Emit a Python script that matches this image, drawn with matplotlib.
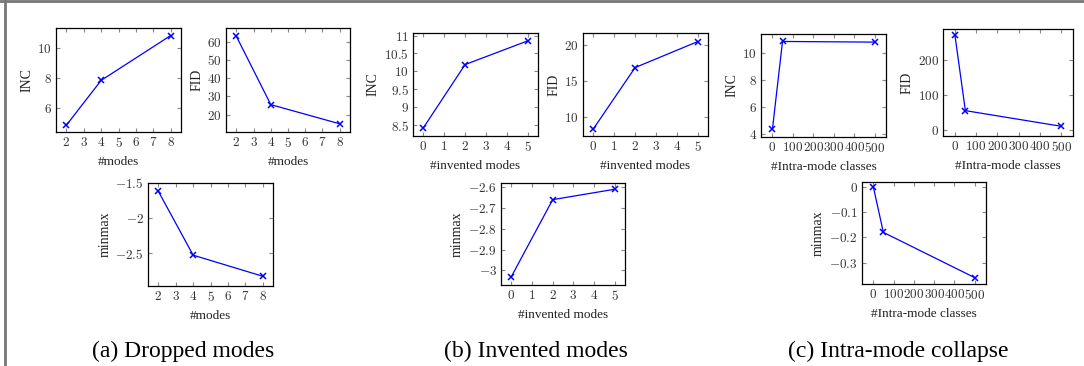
import matplotlib
matplotlib.use("Agg")
import matplotlib.pyplot as plt
from matplotlib.lines import Line2D
from matplotlib.ticker import FuncFormatter, FixedLocator

# ── Data ──────────────────────────────────────────────────────────────────────
dropped_modes = [2, 4, 8]
dropped_inc = [4.9, 7.85, 10.8]
dropped_fid = [63.0, 25.5, 15.0]
dropped_minmax = [-1.62, -2.53, -2.83]

invented_modes = [0, 2, 5]
invented_inc = [8.43, 10.19, 10.85]
invented_fid = [8.3, 16.8, 20.4]
invented_minmax = [-3.03, -2.66, -2.61]

intra_classes = [1, 50, 500]
intra_inc = [4.4, 10.85, 10.8]
intra_fid = [272.0, 55.0, 10.0]
intra_minmax = [0.0, -0.18, -0.36]

captions = ["(a) Dropped modes", "(b) Invented modes", "(c) Intra-mode collapse"]

# ── Style ─────────────────────────────────────────────────────────────────────
W, H = 1084, 366
plt.rcParams.update({
    "font.family": "Liberation Serif",
    "mathtext.fontset": "cm",
    "font.size": 8,
    "axes.linewidth": 0.9,
    "xtick.direction": "in",
    "ytick.direction": "in",
    "xtick.top": True,
    "ytick.right": True,
    "xtick.major.size": 3,
    "ytick.major.size": 3,
    "xtick.color": "#888888",
    "ytick.color": "#888888",
    "xtick.labelcolor": "#333333",
    "ytick.labelcolor": "#333333",
})

fmt = FuncFormatter(lambda v, _: "$%g$" % v)


def add_panel(fig, box, x, y, xlabel, ylabel, xticks, xlim, yticks, ylim):
    """box given as (left, top, right, bottom) in pixels."""
    l, t, r, b = box
    ax = fig.add_axes([l / W, 1 - b / H, (r - l) / W, (b - t) / H])
    ax.plot(x, y, color="#0000ff", lw=0.9, marker="x", ms=4.5, mew=1.1)
    ax.xaxis.set_major_locator(FixedLocator(xticks))
    ax.yaxis.set_major_locator(FixedLocator(yticks))
    ax.xaxis.set_major_formatter(fmt)
    ax.yaxis.set_major_formatter(fmt)
    ax.set_xlim(*xlim)
    ax.set_ylim(*ylim)
    ax.tick_params(labelsize=9.5, pad=3)
    ax.set_xlabel(xlabel, fontsize=9.5, labelpad=4, color="#222222")
    ax.set_ylabel(ylabel, fontsize=10, labelpad=3, color="#222222")
    return ax


fig = plt.figure(figsize=(W / 100, H / 100), dpi=100)

# (a) dropped modes
xa = dict(xticks=[2, 3, 4, 5, 6, 7, 8], xlim=(1.4, 8.6))
add_panel(fig, (56, 28, 181, 132), dropped_modes, dropped_inc, "#modes", "INC",
          yticks=[6, 8, 10], ylim=(4.45, 11.3), **xa)
add_panel(fig, (226, 28, 350, 132), dropped_modes, dropped_fid, "#modes", "FID",
          yticks=[20, 30, 40, 50, 60], ylim=(10.5, 67.5), **xa)
add_panel(fig, (148, 183, 273, 286), dropped_modes, dropped_minmax, "#modes", "minmax",
          yticks=[-2.5, -2, -1.5], ylim=(-2.97, -1.5), **xa)

# (b) invented modes
xb = dict(xticks=[0, 1, 2, 3, 4, 5], xlim=(-0.5, 5.5))
add_panel(fig, (413, 33, 538, 136), invented_modes, invented_inc, "#invented modes", "INC",
          yticks=[8.5, 9, 9.5, 10, 10.5, 11], ylim=(8.2, 11.07), **xb)
add_panel(fig, (583, 33, 708, 136), invented_modes, invented_fid, "#invented modes", "FID",
          yticks=[10, 15, 20], ylim=(7.3, 21.6), **xb)
add_panel(fig, (501, 183, 625, 285), invented_modes, invented_minmax, "#invented modes", "minmax",
          yticks=[-3, -2.9, -2.8, -2.7, -2.6], ylim=(-3.07, -2.58), **xb)

# (c) intra-mode collapse
xc = dict(xticks=[0, 100, 200, 300, 400, 500], xlim=(-55, 555))
add_panel(fig, (761, 34, 886, 137), intra_classes, intra_inc, "#Intra-mode classes", "INC",
          yticks=[4, 6, 8, 10], ylim=(3.8, 11.4), **xc)
add_panel(fig, (943, 29, 1073, 136), intra_classes, intra_fid, "#Intra-mode classes", "FID",
          yticks=[0, 100, 200], ylim=(-18, 290), **xc)
add_panel(fig, (862, 182, 986, 284), intra_classes, intra_minmax, "#Intra-mode classes", "minmax",
          yticks=[-0.3, -0.2, -0.1, 0], ylim=(-0.385, 0.02), **xc)

for cx, text in zip([183, 536, 898], captions):
    fig.text(cx / W, 1 - 351 / H, text, ha="center", va="center", fontsize=17)

# frame lines along the top and left edges
fig.add_artist(Line2D([0, 1], [1 - 1 / H, 1 - 1 / H], color="#777777", lw=2))
fig.add_artist(Line2D([5 / W, 5 / W], [0, 1], color="#777777", lw=2))

fig.savefig("out.png", dpi=100)
